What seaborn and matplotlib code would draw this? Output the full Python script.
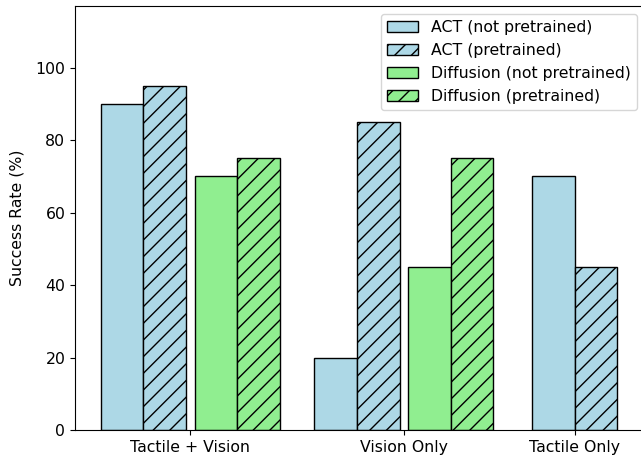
import matplotlib
matplotlib.use("Agg")
import matplotlib.pyplot as plt
from matplotlib.patches import Patch
import seaborn as sns
import pandas as pd

plt.rcParams["font.size"] = 11.3

groups = ["Tactile + Vision", "Vision Only", "Tactile Only"]
group_pos = [0.0, 1.0, 1.8]
act_np = [90, 20, 70]
act_p = [95, 85, 45]
diff_np = [70, 45]
diff_p = [75, 75]

fig = plt.figure(figsize=(6.41, 4.58), dpi=100)
ax = fig.add_axes([75 / 641, 28 / 458, (646 - 75) / 641, (430 - 6) / 458])

w = 0.2
act_np_x = [group_pos[0] - 0.32, group_pos[1] - 0.32, group_pos[2] - 0.1]
act_p_x = [group_pos[0] - 0.12, group_pos[1] - 0.12, group_pos[2] + 0.1]
diff_np_x = [group_pos[0] + 0.12, group_pos[1] + 0.12]
diff_p_x = [group_pos[0] + 0.32, group_pos[1] + 0.32]

series = [
    (act_np_x, act_np, "lightblue", None, "ACT (not pretrained)"),
    (act_p_x, act_p, "lightblue", "//", "ACT (pretrained)"),
    (diff_np_x, diff_np, "lightgreen", None, "Diffusion (not pretrained)"),
    (diff_p_x, diff_p, "lightgreen", "//", "Diffusion (pretrained)"),
]
handles = []
for xs, ys, col, hatch, lab in series:
    df = pd.DataFrame({"x": xs, "y": ys})
    kw = dict(edgecolor="black", linewidth=1.0)
    if hatch:
        kw["hatch"] = hatch
    sns.barplot(data=df, x="x", y="y", native_scale=True, width=w,
                color=col, saturation=1, errorbar=None, ax=ax, **kw)
    handles.append(Patch(facecolor=col, edgecolor="black", hatch=hatch, label=lab))

ax.set_xticks(group_pos)
ax.set_xticklabels(groups)
ax.set_xlim(-0.541, 2.135)
ax.set_ylim(0, 117)
ax.set_yticks([0, 20, 40, 60, 80, 100])
ax.set_xlabel("")
ax.set_ylabel("Success Rate (%)", labelpad=8)
ax.spines["right"].set_visible(False)
ax.legend(handles=handles, loc="upper right", bbox_to_anchor=(1 - 1 / 571, 1))

fig.savefig("out.png", dpi=100)
